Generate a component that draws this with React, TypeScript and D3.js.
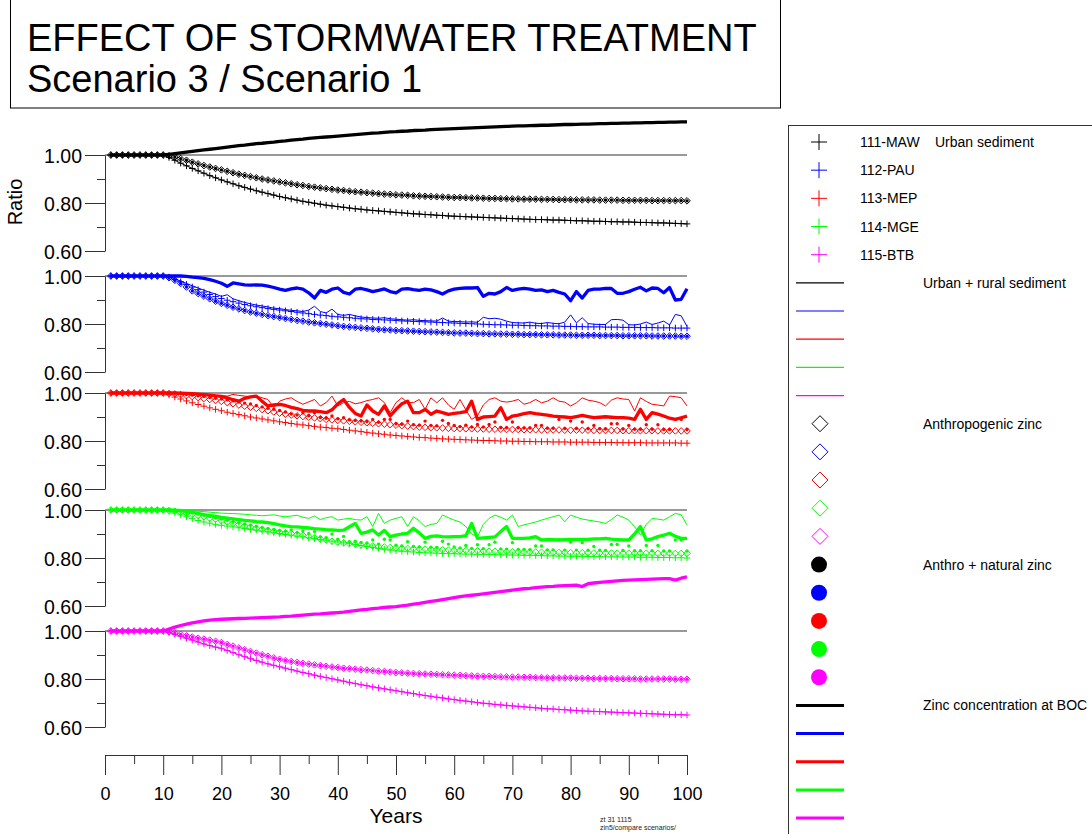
import { useEffect, useRef } from "react";
import * as d3 from "d3";

// simulation years shown on the x axis
const years = d3.range(1, 101);

const siteNames = ["111-MAW", "112-PAU", "113-MEP", "114-MGE", "115-BTB"];
const siteColors = ["#000000", "#0000ff", "#ff0000", "#00ff00", "#ff00ff"];
const seriesLabels = [
  "Urban sediment",
  "Urban + rural sediment",
  "Anthropogenic zinc",
  "Anthro + natural zinc",
  "Zinc concentration at BOC",
];
const xTicks = [0, 10, 20, 30, 40, 50, 60, 70, 80, 90, 100];
const xMinorTicks = [5, 15, 25, 35, 45, 55, 65, 75, 85, 95];
const yTicks = [0.6, 0.8, 1.0];
const yMinorTicks = [0.7, 0.9];

// ---- 111-MAW ----
const mawPlus = [
  1, 1, 1, 1, 1, 1, 1, 1, 1, 1,
  0.990, 0.978, 0.966, 0.955, 0.944, 0.934, 0.924, 0.914, 0.905, 0.896,
  0.888, 0.880, 0.872, 0.865, 0.858, 0.851, 0.845, 0.839, 0.833, 0.827,
  0.822, 0.817, 0.812, 0.807, 0.803, 0.799, 0.795, 0.791, 0.788, 0.785,
  0.782, 0.779, 0.776, 0.774, 0.771, 0.769, 0.767, 0.765, 0.763, 0.761,
  0.759, 0.757, 0.755, 0.754, 0.752, 0.751, 0.749, 0.748, 0.746, 0.745,
  0.744, 0.743, 0.742, 0.741, 0.740, 0.739, 0.738, 0.737, 0.736, 0.735,
  0.734, 0.733, 0.732, 0.731, 0.731, 0.730, 0.729, 0.729, 0.728, 0.727,
  0.726, 0.726, 0.725, 0.724, 0.724, 0.723, 0.722, 0.722, 0.721, 0.721,
  0.720, 0.719, 0.719, 0.718, 0.717, 0.717, 0.716, 0.715, 0.714, 0.713,
];
const mawDiamond = [
  1, 1, 1, 1, 1, 1, 1, 1, 1, 1,
  0.997, 0.992, 0.985, 0.978, 0.970, 0.963, 0.956, 0.950, 0.944, 0.938,
  0.932, 0.926, 0.920, 0.915, 0.910, 0.905, 0.900, 0.896, 0.892, 0.888,
  0.884, 0.880, 0.876, 0.873, 0.869, 0.866, 0.863, 0.860, 0.857, 0.854,
  0.852, 0.849, 0.847, 0.845, 0.843, 0.841, 0.839, 0.837, 0.836, 0.834,
  0.833, 0.832, 0.830, 0.829, 0.828, 0.827, 0.826, 0.825, 0.824, 0.823,
  0.823, 0.822, 0.821, 0.821, 0.820, 0.819, 0.819, 0.818, 0.818, 0.817,
  0.817, 0.816, 0.816, 0.816, 0.815, 0.815, 0.815, 0.814, 0.814, 0.814,
  0.813, 0.813, 0.813, 0.813, 0.812, 0.812, 0.812, 0.812, 0.811, 0.811,
  0.811, 0.811, 0.811, 0.810, 0.810, 0.810, 0.810, 0.810, 0.810, 0.809,
];
const mawBoc = [
  1, 1, 1, 1, 1, 1, 1, 1, 1, 1,
  1.003, 1.006, 1.009, 1.012, 1.015, 1.018, 1.021, 1.024, 1.027, 1.030,
  1.033, 1.036, 1.039, 1.041, 1.044, 1.047, 1.049, 1.052, 1.054, 1.057,
  1.059, 1.062, 1.064, 1.066, 1.069, 1.071, 1.073, 1.075, 1.077, 1.079,
  1.081, 1.083, 1.085, 1.087, 1.089, 1.091, 1.092, 1.094, 1.096, 1.097,
  1.099, 1.100, 1.102, 1.103, 1.104, 1.106, 1.107, 1.108, 1.109, 1.110,
  1.111, 1.112, 1.113, 1.114, 1.115, 1.116, 1.117, 1.118, 1.119, 1.120,
  1.121, 1.121, 1.122, 1.123, 1.124, 1.124, 1.125, 1.126, 1.127, 1.127,
  1.128, 1.129, 1.129, 1.130, 1.131, 1.131, 1.132, 1.132, 1.133, 1.133,
  1.134, 1.134, 1.135, 1.135, 1.136, 1.136, 1.137, 1.137, 1.138, 1.138,
];

// ---- 112-PAU ----
const pauPlus = [
  1, 1, 1, 1, 1, 1, 1, 1, 1, 1,
  0.995, 0.986, 0.976, 0.965, 0.954, 0.943, 0.933, 0.923, 0.914, 0.906,
  0.899, 0.893, 0.887, 0.881, 0.876, 0.872, 0.868, 0.864, 0.861, 0.858,
  0.855, 0.852, 0.849, 0.846, 0.843, 0.840, 0.837, 0.835, 0.832, 0.830,
  0.828, 0.826, 0.824, 0.822, 0.821, 0.819, 0.818, 0.817, 0.816, 0.815,
  0.813, 0.812, 0.811, 0.810, 0.809, 0.808, 0.807, 0.806, 0.805, 0.804,
  0.803, 0.802, 0.801, 0.800, 0.799, 0.798, 0.797, 0.797, 0.796, 0.795,
  0.795, 0.794, 0.793, 0.793, 0.792, 0.792, 0.791, 0.791, 0.790, 0.790,
  0.789, 0.789, 0.788, 0.788, 0.788, 0.787, 0.787, 0.787, 0.786, 0.786,
  0.786, 0.785, 0.785, 0.785, 0.784, 0.784, 0.784, 0.783, 0.783, 0.783,
];
const pauRural = [
  1, 1, 1, 1, 1, 1, 1, 1, 1, 1,
  0.996, 0.988, 0.979, 0.969, 0.959, 0.950, 0.941, 0.932, 0.925, 0.915,
  0.922, 0.905, 0.897, 0.890, 0.884, 0.879, 0.875, 0.871, 0.866, 0.864,
  0.860, 0.857, 0.855, 0.852, 0.858, 0.874, 0.852, 0.846, 0.862, 0.840,
  0.836, 0.840, 0.834, 0.829, 0.827, 0.825, 0.824, 0.826, 0.822, 0.820,
  0.818, 0.816, 0.818, 0.815, 0.814, 0.813, 0.812, 0.825, 0.812, 0.810,
  0.810, 0.808, 0.809, 0.807, 0.828, 0.822, 0.824, 0.820, 0.812, 0.806,
  0.805, 0.804, 0.808, 0.803, 0.802, 0.806, 0.803, 0.801, 0.808, 0.838,
  0.805, 0.826, 0.802, 0.799, 0.798, 0.798, 0.818, 0.819, 0.816, 0.797,
  0.796, 0.800, 0.808, 0.798, 0.804, 0.812, 0.796, 0.840, 0.834, 0.790,
];
const pauDiamond = [
  1, 1, 1, 1, 1, 1, 1, 1, 1, 1,
  0.993, 0.982, 0.969, 0.954, 0.938, 0.927, 0.916, 0.905, 0.895, 0.886,
  0.878, 0.870, 0.863, 0.856, 0.850, 0.845, 0.840, 0.835, 0.831, 0.827,
  0.823, 0.819, 0.815, 0.812, 0.808, 0.805, 0.802, 0.799, 0.796, 0.793,
  0.790, 0.788, 0.786, 0.784, 0.782, 0.780, 0.778, 0.776, 0.775, 0.773,
  0.772, 0.771, 0.770, 0.769, 0.768, 0.767, 0.766, 0.765, 0.764, 0.763,
  0.762, 0.762, 0.761, 0.760, 0.760, 0.759, 0.759, 0.758, 0.758, 0.757,
  0.757, 0.756, 0.756, 0.756, 0.755, 0.755, 0.755, 0.754, 0.754, 0.754,
  0.753, 0.753, 0.753, 0.753, 0.752, 0.752, 0.752, 0.752, 0.751, 0.751,
  0.751, 0.751, 0.751, 0.750, 0.750, 0.750, 0.750, 0.750, 0.749, 0.749,
];
const pauBoc = [
  1, 1, 1, 1, 1, 1, 1, 1, 1, 1,
  1.000, 1.000, 1.000, 0.998, 0.995, 0.993, 0.990, 0.985, 0.978, 0.970,
  0.957, 0.971, 0.967, 0.963, 0.962, 0.963, 0.962, 0.958, 0.952, 0.945,
  0.940, 0.946, 0.950, 0.945, 0.930, 0.908, 0.940, 0.932, 0.945, 0.950,
  0.932, 0.925, 0.945, 0.948, 0.942, 0.935, 0.940, 0.946, 0.935, 0.930,
  0.945, 0.947, 0.943, 0.940, 0.945, 0.942, 0.935, 0.925, 0.938, 0.945,
  0.948, 0.950, 0.950, 0.952, 0.915, 0.928, 0.925, 0.935, 0.952, 0.940,
  0.945, 0.948, 0.945, 0.940, 0.942, 0.935, 0.940, 0.932, 0.925, 0.897,
  0.935, 0.908, 0.940, 0.945, 0.945, 0.948, 0.948, 0.928, 0.928, 0.935,
  0.945, 0.953, 0.938, 0.950, 0.948, 0.930, 0.952, 0.900, 0.903, 0.947,
];

// ---- 113-MEP ----
const mepPlus = [
  1, 1, 1, 1, 1, 1, 1, 1, 1, 1,
  0.992, 0.983, 0.975, 0.967, 0.959, 0.952, 0.945, 0.938, 0.932, 0.926,
  0.920, 0.915, 0.910, 0.905, 0.900, 0.896, 0.892, 0.888, 0.884, 0.880,
  0.877, 0.873, 0.870, 0.867, 0.864, 0.861, 0.858, 0.856, 0.853, 0.851,
  0.848, 0.845, 0.842, 0.839, 0.836, 0.833, 0.830, 0.828, 0.825, 0.823,
  0.821, 0.819, 0.817, 0.815, 0.814, 0.812, 0.811, 0.809, 0.808, 0.807,
  0.806, 0.805, 0.804, 0.803, 0.802, 0.802, 0.801, 0.800, 0.800, 0.799,
  0.799, 0.798, 0.798, 0.797, 0.797, 0.797, 0.796, 0.796, 0.796, 0.795,
  0.795, 0.795, 0.795, 0.794, 0.794, 0.794, 0.794, 0.793, 0.793, 0.793,
  0.793, 0.793, 0.792, 0.792, 0.792, 0.792, 0.792, 0.792, 0.791, 0.791,
];
const mepRural = [
  1, 1, 1, 1, 1, 1, 1, 1, 1, 1,
  1.000, 1.000, 0.999, 0.998, 0.997, 0.996, 0.995, 0.993, 0.991, 0.989,
  0.987, 0.994, 0.990, 0.987, 0.985, 0.987, 0.980, 0.973, 0.939, 0.966,
  0.975, 0.980, 0.965, 0.953, 0.963, 0.973, 0.946, 0.960, 0.987, 0.946,
  0.960, 0.965, 0.955, 0.960, 0.968, 0.973, 0.980, 0.960, 0.918, 0.960,
  0.980, 0.960, 0.960, 0.973, 0.932, 0.980, 0.959, 0.980, 0.950, 0.932,
  0.973, 0.930, 0.890, 0.905, 0.950, 0.973, 0.980, 0.966, 0.962, 0.966,
  0.973, 0.953, 0.960, 0.973, 0.959, 0.966, 0.980, 0.966, 0.962, 0.946,
  0.959, 0.980, 0.970, 0.966, 0.960, 0.946, 0.970, 0.980, 0.975, 0.973,
  0.925, 0.980, 0.965, 0.953, 0.950, 0.946, 0.987, 0.985, 0.980, 0.946,
];
const mepDiamond = [
  1, 1, 1, 1, 1, 1, 1, 1, 1, 1,
  0.998, 0.996, 0.993, 0.989, 0.985, 0.981, 0.977, 0.973, 0.969, 0.965,
  0.960, 0.955, 0.950, 0.945, 0.941, 0.936, 0.931, 0.926, 0.921, 0.916,
  0.912, 0.908, 0.905, 0.902, 0.899, 0.896, 0.893, 0.890, 0.888, 0.886,
  0.884, 0.882, 0.880, 0.878, 0.876, 0.874, 0.872, 0.870, 0.868, 0.866,
  0.864, 0.862, 0.860, 0.858, 0.857, 0.856, 0.855, 0.854, 0.853, 0.852,
  0.852, 0.851, 0.851, 0.850, 0.850, 0.849, 0.849, 0.849, 0.848, 0.848,
  0.848, 0.847, 0.847, 0.847, 0.846, 0.846, 0.846, 0.846, 0.845, 0.845,
  0.845, 0.845, 0.845, 0.844, 0.844, 0.844, 0.844, 0.844, 0.843, 0.843,
  0.843, 0.843, 0.843, 0.843, 0.842, 0.842, 0.842, 0.842, 0.842, 0.842,
];
const mepDots = [
  1, 1, 1, 1, 1, 1, 1, 1, 1, 1,
  1.000, 0.999, 0.997, 0.994, 0.991, 0.988, 0.985, 0.981, 0.978, 0.975,
  0.972, 0.968, 0.962, 0.958, 0.954, 0.948, 0.942, 0.936, 0.932, 0.927,
  0.921, 0.912, 0.908, 0.918, 0.905, 0.918, 0.898, 0.895, 0.904, 0.892,
  0.897, 0.888, 0.885, 0.883, 0.881, 0.890, 0.878, 0.890, 0.890, 0.872,
  0.870, 0.883, 0.868, 0.866, 0.883, 0.865, 0.863, 0.886, 0.873, 0.865,
  0.860, 0.866, 0.858, 0.869, 0.858, 0.869, 0.879, 0.856, 0.855, 0.879,
  0.855, 0.854, 0.854, 0.865, 0.865, 0.853, 0.853, 0.890, 0.852, 0.883,
  0.852, 0.879, 0.851, 0.865, 0.851, 0.850, 0.872, 0.872, 0.850, 0.865,
  0.849, 0.849, 0.868, 0.849, 0.868, 0.848, 0.848, 0.890, 0.890, 0.848,
];
const mepBoc = [
  1, 1, 1, 1, 1, 1, 1, 1, 1, 1,
  1.000, 1.000, 0.999, 0.998, 0.997, 0.995, 0.993, 0.991, 0.988, 0.986,
  0.980, 0.972, 0.966, 0.978, 0.984, 0.987, 0.965, 0.946, 0.950, 0.953,
  0.948, 0.940, 0.935, 0.928, 0.925, 0.925, 0.922, 0.918, 0.930, 0.955,
  0.973, 0.940, 0.915, 0.904, 0.950, 0.925, 0.911, 0.946, 0.904, 0.932,
  0.955, 0.966, 0.918, 0.918, 0.932, 0.911, 0.925, 0.918, 0.911, 0.915,
  0.918, 0.922, 0.966, 0.890, 0.900, 0.902, 0.904, 0.939, 0.890, 0.904,
  0.908, 0.914, 0.918, 0.914, 0.911, 0.908, 0.904, 0.902, 0.900, 0.897,
  0.902, 0.907, 0.902, 0.897, 0.899, 0.901, 0.899, 0.897, 0.897, 0.895,
  0.890, 0.932, 0.890, 0.918, 0.912, 0.904, 0.895, 0.890, 0.897, 0.904,
];

// ---- 114-MGE ----
const mgePlus = [
  1, 1, 1, 1, 1, 1, 1, 1, 1, 1,
  0.995, 0.988, 0.980, 0.972, 0.964, 0.956, 0.950, 0.945, 0.940, 0.936,
  0.933, 0.930, 0.926, 0.923, 0.919, 0.916, 0.912, 0.909, 0.905, 0.902,
  0.898, 0.895, 0.891, 0.888, 0.884, 0.881, 0.877, 0.874, 0.870, 0.867,
  0.863, 0.860, 0.856, 0.852, 0.848, 0.844, 0.840, 0.836, 0.833, 0.830,
  0.828, 0.826, 0.825, 0.823, 0.822, 0.821, 0.820, 0.819, 0.818, 0.818,
  0.817, 0.816, 0.816, 0.815, 0.815, 0.814, 0.814, 0.813, 0.813, 0.812,
  0.812, 0.811, 0.811, 0.810, 0.810, 0.809, 0.809, 0.808, 0.808, 0.807,
  0.807, 0.807, 0.806, 0.806, 0.806, 0.805, 0.805, 0.805, 0.804, 0.804,
  0.804, 0.803, 0.803, 0.803, 0.802, 0.802, 0.802, 0.801, 0.801, 0.800,
];
const mgeRural = [
  1, 1, 1, 1, 1, 1, 1, 1, 1, 1,
  1.000, 1.000, 0.999, 0.998, 0.997, 0.995, 0.993, 0.991, 0.989, 0.987,
  0.986, 0.985, 0.984, 0.982, 0.980, 0.978, 0.976, 0.978, 0.980, 0.975,
  0.972, 0.975, 0.978, 0.970, 0.965, 0.975, 0.960, 0.968, 0.972, 0.958,
  0.962, 0.965, 0.960, 0.958, 0.972, 0.931, 0.986, 0.944, 0.958, 0.965,
  0.972, 0.931, 0.972, 0.955, 0.931, 0.940, 0.944, 0.979, 0.968, 0.958,
  0.950, 0.931, 0.900, 0.889, 0.940, 0.965, 0.979, 0.970, 0.958, 0.979,
  0.931, 0.938, 0.944, 0.950, 0.958, 0.965, 0.972, 0.979, 0.951, 0.979,
  0.970, 0.962, 0.958, 0.954, 0.950, 0.944, 0.960, 0.979, 0.970, 0.958,
  0.930, 0.896, 0.940, 0.965, 0.962, 0.958, 0.972, 0.986, 0.980, 0.938,
];
const mgeDiamond = [
  1, 1, 1, 1, 1, 1, 1, 1, 1, 1,
  0.998, 0.995, 0.991, 0.987, 0.982, 0.977, 0.972, 0.966, 0.961, 0.955,
  0.950, 0.944, 0.939, 0.934, 0.929, 0.924, 0.920, 0.916, 0.912, 0.908,
  0.905, 0.902, 0.899, 0.895, 0.890, 0.885, 0.880, 0.875, 0.870, 0.866,
  0.863, 0.860, 0.857, 0.854, 0.852, 0.850, 0.848, 0.846, 0.844, 0.842,
  0.841, 0.840, 0.839, 0.838, 0.837, 0.836, 0.835, 0.834, 0.833, 0.832,
  0.831, 0.831, 0.830, 0.830, 0.829, 0.828, 0.828, 0.827, 0.827, 0.826,
  0.826, 0.825, 0.825, 0.825, 0.824, 0.824, 0.823, 0.823, 0.823, 0.822,
  0.822, 0.822, 0.822, 0.821, 0.821, 0.821, 0.821, 0.820, 0.820, 0.820,
  0.820, 0.820, 0.820, 0.820, 0.819, 0.819, 0.819, 0.819, 0.819, 0.819,
];
const mgeDots = [
  1, 1, 1, 1, 1, 1, 1, 1, 1, 1,
  1.000, 0.998, 0.995, 0.991, 0.987, 0.983, 0.978, 0.973, 0.968, 0.962,
  0.957, 0.951, 0.946, 0.941, 0.936, 0.931, 0.926, 0.922, 0.918, 0.914,
  0.911, 0.917, 0.905, 0.912, 0.902, 0.910, 0.888, 0.885, 0.900, 0.878,
  0.890, 0.868, 0.870, 0.865, 0.863, 0.875, 0.858, 0.878, 0.875, 0.853,
  0.850, 0.868, 0.848, 0.846, 0.866, 0.845, 0.844, 0.870, 0.858, 0.846,
  0.842, 0.852, 0.840, 0.855, 0.839, 0.855, 0.866, 0.838, 0.837, 0.864,
  0.836, 0.836, 0.835, 0.850, 0.850, 0.834, 0.834, 0.876, 0.833, 0.866,
  0.833, 0.864, 0.832, 0.848, 0.832, 0.831, 0.856, 0.856, 0.831, 0.850,
  0.830, 0.830, 0.852, 0.830, 0.852, 0.829, 0.829, 0.875, 0.875, 0.829,
];
const mgeBoc = [
  1, 1, 1, 1, 1, 1, 1, 1, 1, 1,
  1.000, 0.999, 0.997, 0.994, 0.990, 0.986, 0.981, 0.977, 0.973, 0.969,
  0.966, 0.963, 0.960, 0.957, 0.955, 0.952, 0.950, 0.947, 0.943, 0.938,
  0.934, 0.931, 0.930, 0.928, 0.925, 0.922, 0.920, 0.918, 0.917, 0.915,
  0.916, 0.930, 0.944, 0.903, 0.908, 0.917, 0.896, 0.915, 0.889, 0.895,
  0.900, 0.903, 0.924, 0.904, 0.882, 0.890, 0.892, 0.889, 0.888, 0.889,
  0.889, 0.893, 0.944, 0.882, 0.884, 0.886, 0.888, 0.910, 0.931, 0.882,
  0.882, 0.882, 0.884, 0.889, 0.875, 0.877, 0.876, 0.875, 0.876, 0.877,
  0.878, 0.878, 0.878, 0.880, 0.880, 0.882, 0.879, 0.877, 0.875, 0.875,
  0.900, 0.931, 0.875, 0.880, 0.889, 0.895, 0.903, 0.890, 0.882, 0.882,
];

// ---- 115-BTB ----
const btbPlus = [
  1, 1, 1, 1, 1, 1, 1, 1, 1, 1,
  0.994, 0.986, 0.978, 0.970, 0.962, 0.954, 0.946, 0.939, 0.933, 0.928,
  0.919, 0.910, 0.901, 0.893, 0.885, 0.877, 0.870, 0.863, 0.857, 0.851,
  0.845, 0.839, 0.833, 0.827, 0.822, 0.816, 0.811, 0.806, 0.801, 0.796,
  0.791, 0.786, 0.781, 0.776, 0.772, 0.767, 0.763, 0.759, 0.755, 0.751,
  0.747, 0.743, 0.739, 0.735, 0.731, 0.728, 0.724, 0.721, 0.717, 0.714,
  0.711, 0.708, 0.705, 0.702, 0.699, 0.697, 0.694, 0.692, 0.690, 0.688,
  0.686, 0.684, 0.682, 0.680, 0.678, 0.676, 0.675, 0.673, 0.672, 0.670,
  0.669, 0.667, 0.666, 0.665, 0.664, 0.663, 0.662, 0.661, 0.660, 0.659,
  0.658, 0.657, 0.656, 0.655, 0.654, 0.653, 0.652, 0.651, 0.651, 0.650,
];
const btbDiamond = [
  1, 1, 1, 1, 1, 1, 1, 1, 1, 1,
  0.997, 0.992, 0.986, 0.980, 0.975, 0.970, 0.966, 0.962, 0.957, 0.952,
  0.944, 0.937, 0.929, 0.922, 0.915, 0.908, 0.901, 0.895, 0.888, 0.882,
  0.877, 0.873, 0.869, 0.865, 0.862, 0.859, 0.856, 0.853, 0.850, 0.848,
  0.845, 0.843, 0.841, 0.839, 0.837, 0.835, 0.833, 0.831, 0.829, 0.827,
  0.826, 0.824, 0.823, 0.822, 0.821, 0.820, 0.819, 0.818, 0.817, 0.816,
  0.815, 0.814, 0.813, 0.812, 0.811, 0.811, 0.810, 0.809, 0.809, 0.808,
  0.808, 0.807, 0.807, 0.806, 0.806, 0.805, 0.805, 0.804, 0.804, 0.804,
  0.803, 0.803, 0.803, 0.802, 0.802, 0.802, 0.802, 0.801, 0.801, 0.801,
  0.801, 0.800, 0.800, 0.800, 0.800, 0.800, 0.800, 0.799, 0.799, 0.799,
];
const btbBoc = [
  1, 1, 1, 1, 1, 1, 1, 1, 1, 1,
  1.008, 1.016, 1.023, 1.029, 1.034, 1.038, 1.042, 1.045, 1.047, 1.049,
  1.050, 1.051, 1.052, 1.053, 1.054, 1.055, 1.056, 1.057, 1.058, 1.059,
  1.061, 1.062, 1.064, 1.066, 1.068, 1.070, 1.071, 1.073, 1.075, 1.077,
  1.079, 1.082, 1.085, 1.088, 1.090, 1.093, 1.095, 1.098, 1.100, 1.102,
  1.105, 1.108, 1.112, 1.115, 1.119, 1.123, 1.127, 1.131, 1.135, 1.139,
  1.143, 1.146, 1.149, 1.152, 1.155, 1.158, 1.161, 1.164, 1.167, 1.170,
  1.173, 1.176, 1.178, 1.181, 1.183, 1.185, 1.186, 1.188, 1.189, 1.190,
  1.191, 1.185, 1.197, 1.200, 1.203, 1.205, 1.207, 1.209, 1.211, 1.212,
  1.213, 1.214, 1.215, 1.216, 1.217, 1.218, 1.218, 1.212, 1.220, 1.226,
];

// sediment (urban+rural) and anthro+natural curves coincide with the
// urban / anthropogenic ones for MAW and BTB
const sites = [
  { plus: mawPlus, rural: mawPlus, diamond: mawDiamond, dots: mawDiamond, boc: mawBoc },
  { plus: pauPlus, rural: pauRural, diamond: pauDiamond, dots: pauDiamond, boc: pauBoc },
  { plus: mepPlus, rural: mepRural, diamond: mepDiamond, dots: mepDots, boc: mepBoc },
  { plus: mgePlus, rural: mgeRural, diamond: mgeDiamond, dots: mgeDots, boc: mgeBoc },
  { plus: btbPlus, rural: btbPlus, diamond: btbDiamond, dots: btbDiamond, boc: btbBoc },
];

const FONT = "'Liberation Sans', Arial, Helvetica, sans-serif";

export default function App() {
  const svgRef = useRef<SVGSVGElement>(null);

  useEffect(() => {
    document.body.style.margin = "0";
    const svg = d3.select(svgRef.current);
    svg.selectAll("*").remove();

    const width = 1092;
    const height = 834;
    const panelTops = [155, 276, 393, 510, 631];
    const panelH = 96;
    const axisColor = "#333";

    svg
      .attr("width", width)
      .attr("height", height)
      .style("background", "#fff")
      .style("display", "block")
      .attr("font-family", FONT);

    const x = d3.scaleLinear().domain([0, 100]).range([105, 687]);

    // title box
    svg
      .append("rect")
      .attr("x", 10.5)
      .attr("y", -1)
      .attr("width", 770)
      .attr("height", 109)
      .attr("fill", "none")
      .attr("stroke", "#000");
    svg
      .append("text")
      .attr("x", 27)
      .attr("y", 51)
      .attr("font-size", 38)
      .text("EFFECT OF STORMWATER TREATMENT");
    svg
      .append("text")
      .attr("x", 27)
      .attr("y", 92)
      .attr("font-size", 38)
      .text("Scenario 3 / Scenario 1");

    // y label
    svg
      .append("text")
      .attr("transform", "translate(22,202) rotate(-90)")
      .attr("text-anchor", "middle")
      .attr("font-size", 20)
      .text("Ratio");

    const plusPath = (px: number, py: number, s: number) =>
      `M${px - s},${py}h${2 * s}M${px},${py - s}v${2 * s}`;
    const diamondPath = (px: number, py: number, s: number) =>
      `M${px},${py - s}L${px + s},${py}L${px},${py + s}L${px - s},${py}Z`;

    sites.forEach((site, i) => {
      const top = panelTops[i];
      const color = siteColors[i];
      const y = d3.scaleLinear().domain([0.6, 1.0]).range([top + panelH, top]);
      const g = svg.append("g");

      // reference line at 1.00
      g.append("line")
        .attr("x1", x(0))
        .attr("x2", x(100))
        .attr("y1", y(1))
        .attr("y2", y(1))
        .attr("stroke", axisColor)
        .attr("stroke-width", 1);

      const yAxis = g
        .append("g")
        .attr("transform", `translate(${x(0)},0)`)
        .call(
          d3
            .axisLeft(y)
            .tickValues(yTicks)
            .tickSize(20)
            .tickSizeOuter(0)
            .tickPadding(3)
            .tickFormat(d3.format(".2f"))
        );
      yAxis.attr("font-family", FONT).attr("font-size", 19.5);
      yAxis.selectAll("path,line").attr("stroke", axisColor);
      yAxis.selectAll("text").attr("fill", "#000").attr("dy", "0.36em");

      const yMinor = g
        .append("g")
        .attr("transform", `translate(${x(0)},0)`)
        .call(
          d3
            .axisLeft(y)
            .tickValues(yMinorTicks)
            .tickSize(8)
            .tickSizeOuter(0)
            .tickFormat(() => "")
        );
      yMinor.select(".domain").remove();
      yMinor.selectAll("line").attr("stroke", axisColor);

      const line = d3
        .line<number>()
        .x((_, j) => x(years[j]))
        .y((d) => y(d));

      // urban + rural sediment (thin line)
      g.append("path")
        .attr("d", line(site.rural))
        .attr("fill", "none")
        .attr("stroke", color)
        .attr("stroke-width", 1);

      // urban sediment (+)
      g.append("path")
        .attr(
          "d",
          site.plus.map((v, j) => plusPath(x(years[j]), y(v), 3.3)).join("")
        )
        .attr("fill", "none")
        .attr("stroke", color)
        .attr("stroke-width", 1);

      // anthropogenic zinc (diamond)
      g.append("path")
        .attr(
          "d",
          site.diamond.map((v, j) => diamondPath(x(years[j]), y(v), 3.3)).join("")
        )
        .attr("fill", "none")
        .attr("stroke", color)
        .attr("stroke-width", 1);

      // anthro + natural zinc (dots)
      g.selectAll("circle.dot")
        .data(site.dots)
        .enter()
        .append("circle")
        .attr("class", "dot")
        .attr("cx", (_, j) => x(years[j]))
        .attr("cy", (d) => y(d))
        .attr("r", 1.7)
        .attr("fill", color);

      // zinc concentration at BOC (thick line)
      g.append("path")
        .attr("d", line(site.boc))
        .attr("fill", "none")
        .attr("stroke", color)
        .attr("stroke-width", 3.3)
        .attr("stroke-linejoin", "round");
    });

    // x axis
    const xAxisY = 755;
    const xAxis = svg
      .append("g")
      .attr("transform", `translate(0,${xAxisY})`)
      .call(
        d3
          .axisBottom(x)
          .tickValues(xTicks)
          .tickSize(20)
          .tickSizeOuter(0)
          .tickPadding(12)
          .tickFormat(d3.format("d"))
      );
    xAxis.attr("font-family", FONT).attr("font-size", 18);
    xAxis.selectAll("path,line").attr("stroke", axisColor);
    xAxis.selectAll("text").attr("fill", "#000");
    const xMinor = svg
      .append("g")
      .attr("transform", `translate(0,${xAxisY})`)
      .call(
        d3
          .axisBottom(x)
          .tickValues(xMinorTicks)
          .tickSize(9)
          .tickSizeOuter(0)
          .tickFormat(() => "")
      );
    xMinor.select(".domain").remove();
    xMinor.selectAll("line").attr("stroke", axisColor);

    svg
      .append("text")
      .attr("x", (x(0) + x(100)) / 2)
      .attr("y", 823)
      .attr("text-anchor", "middle")
      .attr("font-size", 21)
      .text("Years");

    svg
      .append("text")
      .attr("x", 600)
      .attr("y", 822)
      .attr("font-size", 7)
      .attr("fill", "#222")
      .text("zt 31 1115");
    svg
      .append("text")
      .attr("x", 600)
      .attr("y", 830)
      .attr("font-size", 7)
      .attr("fill", "#222")
      .text("zin5/compare scenarios/");

    // legend
    const lg = svg.append("g");
    lg.append("rect")
      .attr("x", 788.5)
      .attr("y", 125.5)
      .attr("width", 400)
      .attr("height", 800)
      .attr("fill", "none")
      .attr("stroke", axisColor);

    const rowY = (r: number) => 142 + r * 28.17;
    seriesLabels.forEach((label, b) => {
      siteColors.forEach((color, s) => {
        const cy = rowY(b * 5 + s);
        if (b === 0) {
          lg.append("path")
            .attr("d", plusPath(819, cy, 8))
            .attr("stroke", color)
            .attr("stroke-width", 1);
          lg.append("text")
            .attr("x", 860)
            .attr("y", cy + 5)
            .attr("font-size", 14)
            .text(siteNames[s]);
        } else if (b === 1 || b === 4) {
          lg.append("line")
            .attr("x1", 796)
            .attr("x2", 844)
            .attr("y1", cy)
            .attr("y2", cy)
            .attr("stroke", color)
            .attr("stroke-width", b === 1 ? 1.2 : 3);
        } else if (b === 2) {
          lg.append("path")
            .attr("d", diamondPath(820, cy, 8))
            .attr("fill", "none")
            .attr("stroke", color)
            .attr("stroke-width", 1);
        } else {
          lg.append("circle")
            .attr("cx", 819)
            .attr("cy", cy)
            .attr("r", 8)
            .attr("fill", color);
        }
      });
      lg.append("text")
        .attr("x", b === 0 ? 935 : 923)
        .attr("y", rowY(b * 5) + 5)
        .attr("font-size", 14)
        .text(label);
    });
  }, []);

  return <svg ref={svgRef}></svg>;
}
